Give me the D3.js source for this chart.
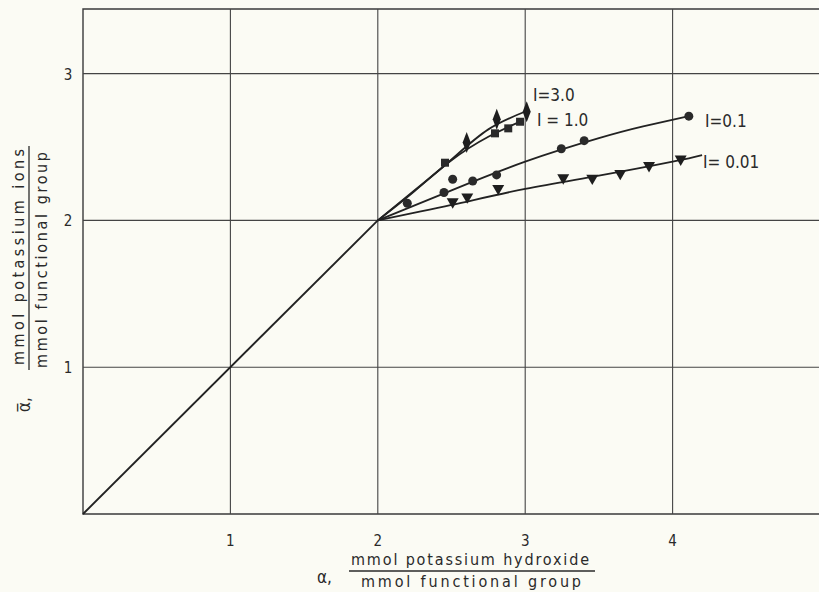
<!DOCTYPE html>
<html>
<head>
<meta charset="utf-8">
<script src="https://cdn.jsdelivr.net/npm/d3@7"></script>
<style>
  html, body { margin: 0; padding: 0; background: #fbfbf4; }
  svg { display: block; font-family: "DejaVu Sans Condensed", "DejaVu Sans", sans-serif; }
</style>
</head>
<body>
<div id="chart"></div>
<script>
// ticks
const xTicks = [1, 2, 3, 4];
const yTicks = [1, 2, 3];

// common straight part up to alpha = 2
const baseX = [0, 2];
const baseY = [0, 2];

// fitted curves
const curve30X = [2, 2.25, 2.5, 2.75, 3.01];
const curve30Y = [2, 2.205, 2.415, 2.62, 2.745];
const curve10X = [2, 2.25, 2.5, 2.75, 2.97];
const curve10Y = [2, 2.20, 2.41, 2.57, 2.675];
const curve01X = [2, 2.5, 3, 3.5, 3.8, 4.11];
const curve01Y = [2, 2.205, 2.40, 2.56, 2.64, 2.71];
const curve001X = [2, 2.5, 3, 3.5, 4, 4.2];
const curve001Y = [2, 2.105, 2.215, 2.305, 2.40, 2.445];

// measured points
const diamondX = [2.603, 2.807, 3.01];           // I = 3.0
const diamondY = [2.53, 2.689, 2.74];
const squareX = [2.456, 2.795, 2.885, 2.965];     // I = 1.0
const squareY = [2.393, 2.593, 2.627, 2.672];
const circleX = [2.2, 2.449, 2.508, 2.644, 2.806, 3.245, 3.40, 4.11];   // I = 0.1
const circleY = [2.117, 2.19, 2.28, 2.268, 2.31, 2.488, 2.543, 2.71];
const triangleX = [2.508, 2.607, 2.817, 3.258, 3.455, 3.645, 3.84, 4.055]; // I = 0.01
const triangleY = [2.127, 2.16, 2.218, 2.29, 2.288, 2.32, 2.374, 2.418];

const curveLabels = ['I=3.0', 'I = 1.0', 'I=0.1', 'I= 0.01'];

const width = 819, height = 592;
const svg = d3.select('#chart').append('svg')
  .attr('width', width)
  .attr('height', height);

const x = d3.scaleLinear().domain([0, 5]).range([83, 820]);
const y = d3.scaleLinear().domain([0, 3.44]).range([514, 9]);

const ink = '#222';
const textInk = '#2a2a2a';

// frame: left, bottom, top (right side runs off the page)
svg.append('path')
  .attr('d', `M${x(5) + 2},${y(3.44)}H${x(0)}V${y(0)}H${x(5) + 2}`)
  .attr('fill', 'none')
  .attr('stroke', '#3a3a3a')
  .attr('stroke-width', 1.4);

// grid
svg.selectAll('.gx').data(xTicks).enter().append('line')
  .attr('x1', d => x(d)).attr('x2', d => x(d))
  .attr('y1', y(0)).attr('y2', y(3.44))
  .attr('stroke', '#444').attr('stroke-width', 1.1);
svg.selectAll('.gy').data(yTicks).enter().append('line')
  .attr('y1', d => y(d)).attr('y2', d => y(d))
  .attr('x1', x(0)).attr('x2', x(5) + 2)
  .attr('stroke', '#444').attr('stroke-width', 1.1);

// tick labels
svg.selectAll('.tx').data(xTicks).enter().append('text')
  .attr('x', d => x(d)).attr('y', 546)
  .attr('text-anchor', 'middle')
  .attr('font-size', 15).attr('fill', textInk)
  .text(d => d);
svg.selectAll('.ty').data(yTicks).enter().append('text')
  .attr('x', 68).attr('y', d => y(d) + 6)
  .attr('text-anchor', 'middle')
  .attr('font-size', 15).attr('fill', textInk)
  .text(d => d);

// curves
const line = d3.line().x(d => x(d[0])).y(d => y(d[1]));
const smooth = d3.line().x(d => x(d[0])).y(d => y(d[1])).curve(d3.curveNatural);
const zip = (a, b) => a.map((v, i) => [v, b[i]]);

svg.append('path').attr('d', line(zip(baseX, baseY)))
  .attr('fill', 'none').attr('stroke', ink).attr('stroke-width', 1.9);
[[curve30X, curve30Y], [curve10X, curve10Y], [curve01X, curve01Y], [curve001X, curve001Y]]
  .forEach(([cx, cy]) => {
    svg.append('path').attr('d', smooth(zip(cx, cy)))
      .attr('fill', 'none').attr('stroke', ink).attr('stroke-width', 1.8);
  });

// markers
const sym = (type, size) => d3.symbol().type(type).size(size);
svg.selectAll('.sq').data(zip(squareX, squareY)).enter().append('path')
  .attr('d', sym(d3.symbolSquare, 64))
  .attr('transform', d => `translate(${x(d[0])},${y(d[1])})`)
  .attr('fill', '#2a2a2a');
svg.selectAll('.di').data(zip(diamondX, diamondY)).enter().append('path')
  .attr('d', sym(d3.symbolDiamond, 70))
  .attr('transform', d => `translate(${x(d[0])},${y(d[1])}) scale(0.9,1.35)`)
  .attr('fill', '#1e1e1e');
svg.selectAll('.ci').data(zip(circleX, circleY)).enter().append('circle')
  .attr('cx', d => x(d[0])).attr('cy', d => y(d[1])).attr('r', 4.5)
  .attr('fill', '#2a2a2a');
svg.selectAll('.tr').data(zip(triangleX, triangleY)).enter().append('path')
  .attr('d', sym(d3.symbolTriangle, 62))
  .attr('transform', d => `translate(${x(d[0])},${y(d[1])}) rotate(180)`)
  .attr('fill', '#1e1e1e');

// curve labels
const labelPos = [[533, 101], [537, 126], [705, 127], [703, 168]];
svg.selectAll('.cl').data(curveLabels).enter().append('text')
  .attr('x', (d, i) => labelPos[i][0]).attr('y', (d, i) => labelPos[i][1])
  .attr('font-size', 17).attr('fill', textInk)
  .text(d => d);

// x axis title
svg.append('text').attr('x', 317).attr('y', 583)
  .attr('font-size', 17).attr('fill', textInk).text('α,');
svg.append('text').attr('x', 351).attr('y', 565)
  .attr('font-size', 16).attr('fill', textInk)
  .attr('textLength', 238).attr('lengthAdjust', 'spacing')
  .text('mmol  potassium  hydroxide');
svg.append('line').attr('x1', 349).attr('x2', 595).attr('y1', 571).attr('y2', 571)
  .attr('stroke', textInk).attr('stroke-width', 1.3);
svg.append('text').attr('x', 361).attr('y', 587)
  .attr('font-size', 16).attr('fill', textInk)
  .attr('textLength', 220).attr('lengthAdjust', 'spacing')
  .text('mmol  functional  group');

// y axis title (rotated)
const yTitle = svg.append('g').attr('transform', 'rotate(-90)');
yTitle.append('text').attr('x', -365).attr('y', 24)
  .attr('font-size', 16).attr('fill', textInk)
  .attr('textLength', 216).attr('lengthAdjust', 'spacing')
  .text('mmol  potassium  ions');
yTitle.append('line').attr('x1', -370).attr('x2', -146).attr('y1', 29).attr('y2', 29)
  .attr('stroke', textInk).attr('stroke-width', 1.3);
yTitle.append('text').attr('x', -368).attr('y', 47)
  .attr('font-size', 16).attr('fill', textInk)
  .attr('textLength', 216).attr('lengthAdjust', 'spacing')
  .text('mmol  functional  group');
yTitle.append('text').attr('x', -412).attr('y', 30)
  .attr('font-size', 17).attr('fill', textInk)
  .text('α\u0305,');
</script>
</body>
</html>
